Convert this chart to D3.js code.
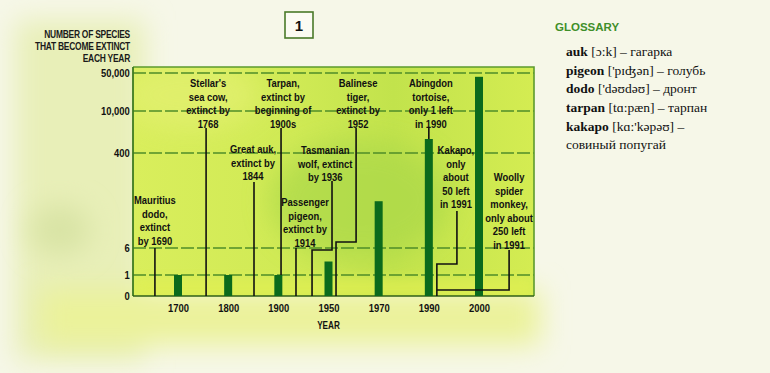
<!DOCTYPE html>
<html><head><meta charset="utf-8">
<script src="https://cdn.jsdelivr.net/npm/d3@7"></script>
<style>
html,body{margin:0;padding:0;background:#f7f8ec;}
svg{display:block;}
</style></head><body>
<svg id="chart" width="770" height="373"></svg>
<script>
// ---------- data ----------
const categories = ["1700", "1800", "1900", "1950", "1970", "1990", "2000"];
const extinctPerYear = [1, 1, 1, 3.5, 200, 3600, 46000];
const yTickValues = [0, 1, 6, 400, 10000, 50000];
const yTitleLines = ["NUMBER OF SPECIES", "THAT BECOME EXTINCT", "EACH YEAR"];
const xTitle = "YEAR";
const boxLabel = "1";

const noteTexts = [
  ["Mauritius", "dodo,", "extinct", "by 1690"],
  ["Stellar's", "sea cow,", "extinct by", "1768"],
  ["Great auk,", "extinct by", "1844"],
  ["Tarpan,", "extinct by", "beginning of", "1900s"],
  ["Passenger", "pigeon,", "extinct by", "1914"],
  ["Tasmanian", "wolf, extinct", "by 1936"],
  ["Balinese", "tiger,", "extinct by", "1952"],
  ["Abingdon", "tortoise,", "only 1 left", "in 1990"],
  ["Kakapo,", "only", "about", "50 left", "in 1991"],
  ["Woolly", "spider", "monkey,", "only about", "250 left", "in 1991"]
];
// position along the time axis (in years) of each label and its leader line
const noteLabelYear = [1654, 1760, 1849.5, 1904.7, 1926.6, 1946.7, 1961.8, 1990.4, 1995.4, 2006];
const noteLineYear  = [1654, 1756, 1851.5, 1902.7, 1917.6, 1951.4, 1961, 1990, 1995.6, 2006];
const noteElbowYear = [null, null, null, null, null, 1933.6, 1953, null, 1991.6, 1991.6];

const glossaryTitle = "GLOSSARY";
const glossaryWords = ["auk", "pigeon", "dodo", "tarpan", "kakapo"];
const glossaryPhon = ["[ɔ:k]", "['pɪʤən]", "['dəʊdəʊ]", "[tɑ:pæn]", "[kɑ:'kəpəʊ]"];
const glossaryRu = ["гагарка", "голубь", "дронт", "тарпан", "совиный попугай"];

// ---------- layout ----------
const plot = {left: 133, right: 534, top: 67, bottom: 296};
const noteLayout = [
  {ly: 200, top: "six", elbow: null, end: "base"},
  {ly: 83, top: 128, elbow: null, end: "base"},
  {ly: 149, top: 182, elbow: null, end: "base"},
  {ly: 83, top: 128, elbow: null, end: "bar1900"},
  {ly: 202, top: "six", elbow: null, end: "base"},
  {ly: 150, top: 181, elbow: 250, end: "base"},
  {ly: 83, top: 128, elbow: 242, end: "base"},
  {ly: 83, top: 128, elbow: null, end: "bar1990"},
  {ly: 150, top: 211, elbow: 264, end: "base"},
  {ly: 177, top: 250, elbow: 290, end: "elbow"}
];
const lh = 13.5;
const FONT = "'Liberation Sans', Arial, sans-serif";
const SX = 0.82; // horizontal condensing of the label face

const svg = d3.select("#chart");
const defs = svg.append("defs");
defs.append("filter").attr("id", "blur").attr("x", "-50%").attr("y", "-50%").attr("width", "200%").attr("height", "200%")
  .append("feGaussianBlur").attr("stdDeviation", 14);
defs.append("filter").attr("id", "blur2").attr("x", "-50%").attr("y", "-50%").attr("width", "200%").attr("height", "200%")
  .append("feGaussianBlur").attr("stdDeviation", 6);
const pg = defs.append("linearGradient").attr("id", "plotGrad").attr("x1", 0).attr("x2", 1).attr("y1", 0).attr("y2", 0);
pg.append("stop").attr("offset", "0%").attr("stop-color", "#d9ee5c");
pg.append("stop").attr("offset", "40%").attr("stop-color", "#d0ea55");
pg.append("stop").attr("offset", "65%").attr("stop-color", "#c2e34c");
pg.append("stop").attr("offset", "100%").attr("stop-color", "#d4ec52");

// ---------- background ----------
const bg = svg.append("g");
bg.append("rect").attr("width", 770).attr("height", 373).attr("fill", "#f6f7e8");
bg.append("rect").attr("x", 15).attr("y", 20).attr("width", 130).attr("height", 340).attr("fill", "#e8efb8").attr("filter", "url(#blur)");
bg.append("rect").attr("x", 40).attr("y", 290).attr("width", 500).attr("height", 55).attr("fill", "#ebf29a").attr("filter", "url(#blur)");
bg.append("ellipse").attr("cx", 60).attr("cy", 230).attr("rx", 30).attr("ry", 25).attr("fill", "#d8e3a4").attr("filter", "url(#blur)");
bg.append("rect").attr("x", plot.left).attr("y", plot.top).attr("width", plot.right - plot.left).attr("height", plot.bottom - plot.top)
  .attr("fill", "url(#plotGrad)");
const pclip = defs.append("clipPath").attr("id", "pclip");
pclip.append("rect").attr("x", plot.left).attr("y", plot.top).attr("width", plot.right - plot.left).attr("height", plot.bottom - plot.top);
const blobs = bg.append("g").attr("clip-path", "url(#pclip)");
blobs.append("ellipse").attr("cx", 360).attr("cy", 200).attr("rx", 90).attr("ry", 60).attr("fill", "#aad84a").attr("opacity", 0.7).attr("filter", "url(#blur)");
blobs.append("ellipse").attr("cx", 190).attr("cy", 95).attr("rx", 70).attr("ry", 35).attr("fill", "#e2f070").attr("opacity", 0.8).attr("filter", "url(#blur)");
blobs.append("rect").attr("x", plot.left).attr("y", 278).attr("width", 400).attr("height", 20).attr("fill", "#e2f052").attr("opacity", 0.7).attr("filter", "url(#blur2)");

// ---------- scales ----------
const xPoint = d3.scalePoint().domain(categories).range([178, 479]);
const xYear = d3.scaleLinear().domain(categories.map(Number)).range(categories.map(c => xPoint(c)));
const y = d3.scaleLinear().domain(yTickValues).range([296, 275, 248, 153, 111, 73]);

// helper: condensed text at (x, y)
function ctext(sel, x, yy, anchor) {
  return sel.append("text").attr("transform", `translate(${x},${yy}) scale(${SX},1)`).attr("text-anchor", anchor || "middle")
    .attr("font-family", FONT).attr("font-weight", "bold").attr("fill", "#111");
}

// ---------- gridlines ----------
const grid = svg.append("g");
grid.selectAll("line.g").data(yTickValues.filter(v => v > 0)).join("line")
  .attr("x1", plot.left).attr("x2", plot.right)
  .attr("y1", d => y(d)).attr("y2", d => y(d))
  .attr("stroke", "#4f8d28").attr("stroke-width", 1.6).attr("stroke-dasharray", "13 3");
svg.append("path")
  .attr("d", `M${plot.left},${plot.top}H${plot.right}V${plot.bottom}`)
  .attr("fill", "none").attr("stroke", "#5c9a2e").attr("stroke-width", 1.6);

// ---------- axes ----------
const yAxis = svg.append("g").attr("transform", `translate(${plot.left},0)`)
  .call(d3.axisLeft(y).tickValues(yTickValues).tickFormat(d3.format(",")).tickSize(0).tickPadding(4));
yAxis.select(".domain").attr("stroke", "#3d7a22").attr("stroke-width", 1.8).attr("d", `M0,${plot.top}V${plot.bottom}`);
yAxis.selectAll("text").attr("font-family", FONT).attr("font-weight", "bold").attr("font-size", 11.5).attr("fill", "#111")
  .attr("transform", `scale(${SX},1)`);

const xAxis = svg.append("g").attr("transform", `translate(0,${plot.bottom})`)
  .call(d3.axisBottom(xPoint).tickSize(0).tickPadding(8));
xAxis.select(".domain").attr("stroke", "#2f5f18").attr("stroke-width", 1.4).attr("d", `M${plot.left},0H${plot.right}`);
xAxis.selectAll("text").attr("font-family", FONT).attr("font-weight", "bold").attr("font-size", 11.5).attr("fill", "#111")
  .attr("transform", `scale(${SX},1)`);

ctext(svg, xPoint("1950"), 329).attr("font-size", 10).text(xTitle);

yTitleLines.forEach((t, i) => {
  ctext(svg, 130, 38 + i * 12, "end").attr("font-size", 10.3).attr("fill", "#1a1a1a").attr("letter-spacing", "-0.3").text(t);
});

// ---------- bars ----------
const bw = 8;
svg.append("g").selectAll("rect").data(categories).join("rect")
  .attr("x", d => xPoint(d) - bw / 2).attr("width", bw)
  .attr("y", (d, i) => y(extinctPerYear[i]))
  .attr("height", (d, i) => y(0) - y(extinctPerYear[i]))
  .attr("fill", "#0b6a1c");

// ---------- annotations ----------
const notes = svg.append("g");
noteTexts.forEach((lines, i) => {
  const L = noteLayout[i];
  const g = notes.append("g");
  lines.forEach((t, k) => {
    ctext(g, xYear(noteLabelYear[i]), L.ly + k * lh + 4).attr("font-size", 11.5).text(t);
  });
  const x0 = xYear(noteLineYear[i]);
  const top = L.top === "six" ? y(6) : L.top;
  let end;
  if (L.end === "base") end = y(0);
  else if (L.end === "bar1900") end = y(extinctPerYear[categories.indexOf("1900")]);
  else if (L.end === "bar1990") end = y(extinctPerYear[categories.indexOf("1990")]);
  let d;
  if (noteElbowYear[i] === null) d = `M${x0},${top}V${end}`;
  else {
    const x1 = xYear(noteElbowYear[i]);
    d = `M${x0},${top}V${L.elbow}H${x1}`;
    if (L.end !== "elbow") d += `V${end}`;
  }
  g.append("path").attr("d", d).attr("fill", "none").attr("stroke", "#111").attr("stroke-width", 1.6);
});

// ---------- box "1" ----------
svg.append("rect").attr("x", 285).attr("y", 12).attr("width", 28).attr("height", 26)
  .attr("fill", "#fbfbf2").attr("stroke", "#4a7a28").attr("stroke-width", 1.6);
svg.append("text").attr("x", 299).attr("y", 31).attr("text-anchor", "middle")
  .attr("font-family", FONT).attr("font-weight", "bold").attr("font-size", 15).attr("fill", "#111").text(boxLabel);

// ---------- glossary ----------
const gl = svg.append("g");
gl.append("text").attr("x", 555).attr("y", 31).attr("font-family", FONT)
  .attr("font-weight", "bold").attr("font-size", 11.5).attr("fill", "#3f8f2a").text(glossaryTitle);
const SERIF = "'Liberation Serif', 'Times New Roman', serif";
glossaryWords.forEach((w, i) => {
  const yy = 56 + i * 18.7;
  const t = gl.append("text").attr("x", 566).attr("y", yy).attr("font-family", SERIF).attr("font-size", 13.5).attr("fill", "#111");
  t.append("tspan").attr("font-weight", "bold").text(w + " ");
  t.append("tspan").text(glossaryPhon[i] + " – ");
  const ru = glossaryRu[i];
  if (i < glossaryWords.length - 1) t.append("tspan").text(ru);
  else gl.append("text").attr("x", 566).attr("y", yy + 18).attr("font-family", SERIF).attr("font-size", 13.5).attr("fill", "#111").text(ru);
});
</script>
</body></html>
